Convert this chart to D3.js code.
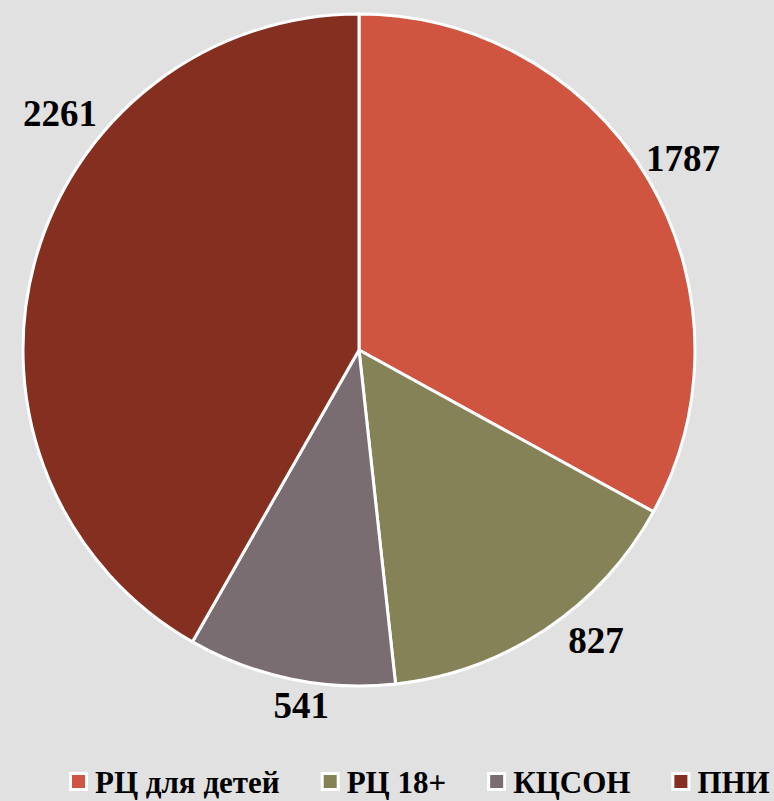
<!DOCTYPE html>
<html>
<head>
<meta charset="utf-8">
<script src="https://cdn.jsdelivr.net/npm/d3@7"></script>
<style>
  html, body { margin: 0; padding: 0; background: #e1e1e1; }
  svg { display: block; }
</style>
</head>
<body>
<svg id="chart"></svg>
<script>
var width = 774,
    height = 801;

var categories = ["РЦ для детей", "РЦ 18+", "КЦСОН", "ПНИ"];
var values = [1787, 827, 541, 2261];
var colors = ["#d05541", "#858257", "#796d71", "#842f20"];

// label placement tweaks (degrees off slice middle, radius factor)
var labelShift = [0, -5.5, -2.5, 23.5];
var labelRadius = [1.12, 1.115, 1.07, 1.135];

var cx = 359, cy = 350, r = 336;

var svg = d3.select("#chart")
    .attr("width", width)
    .attr("height", height);

var pie = d3.pie().sort(null).value(d => d.value);
var arc = d3.arc().innerRadius(0).outerRadius(r);

var data = categories.map((c, i) => ({ name: c, value: values[i], i: i }));
var arcs = pie(data);

var g = svg.append("g").attr("transform", "translate(" + cx + "," + cy + ")");

g.selectAll("path")
    .data(arcs)
    .enter()
    .append("path")
        .attr("d", arc)
        .attr("fill", d => colors[d.data.i])
        .attr("stroke", "#fff")
        .attr("stroke-width", 3)
        .attr("stroke-linejoin", "round");

g.selectAll("text.lbl")
    .data(arcs)
    .enter()
    .append("text")
        .attr("class", "lbl")
        .attr("transform", d => {
            var a = (d.startAngle + d.endAngle) / 2 + labelShift[d.data.i] * Math.PI / 180;
            var rr = r * labelRadius[d.data.i];
            return "translate(" + (Math.sin(a) * rr) + "," + (-Math.cos(a) * rr) + ")";
        })
        .attr("text-anchor", "middle")
        .attr("dy", "0.35em")
        .style("font-family", "'Liberation Serif', 'Times New Roman', serif")
        .style("font-weight", "bold")
        .style("font-size", "37px")
        .attr("fill", "#000")
        .text(d => d.data.value);

// legend, laid out left to right from measured text widths
var legend = svg.append("g").attr("transform", "translate(69,772)");
var x = 0;
data.forEach(function(d) {
    var it = legend.append("g").attr("transform", "translate(" + x + ",0)");
    it.append("rect")
        .attr("x", 1.5).attr("y", 1.5)
        .attr("width", 16)
        .attr("height", 16)
        .attr("fill", colors[d.i])
        .attr("stroke", "#fff")
        .attr("stroke-width", 3);
    var t = it.append("text")
        .attr("x", 26)
        .attr("y", 21)
        .style("font-family", "'Liberation Serif', 'Times New Roman', serif")
        .style("font-weight", "bold")
        .style("font-size", "31px")
        .attr("fill", "#000")
        .text(d.name);
    x += 26 + t.node().getComputedTextLength() + 41;
});
</script>
</body>
</html>
